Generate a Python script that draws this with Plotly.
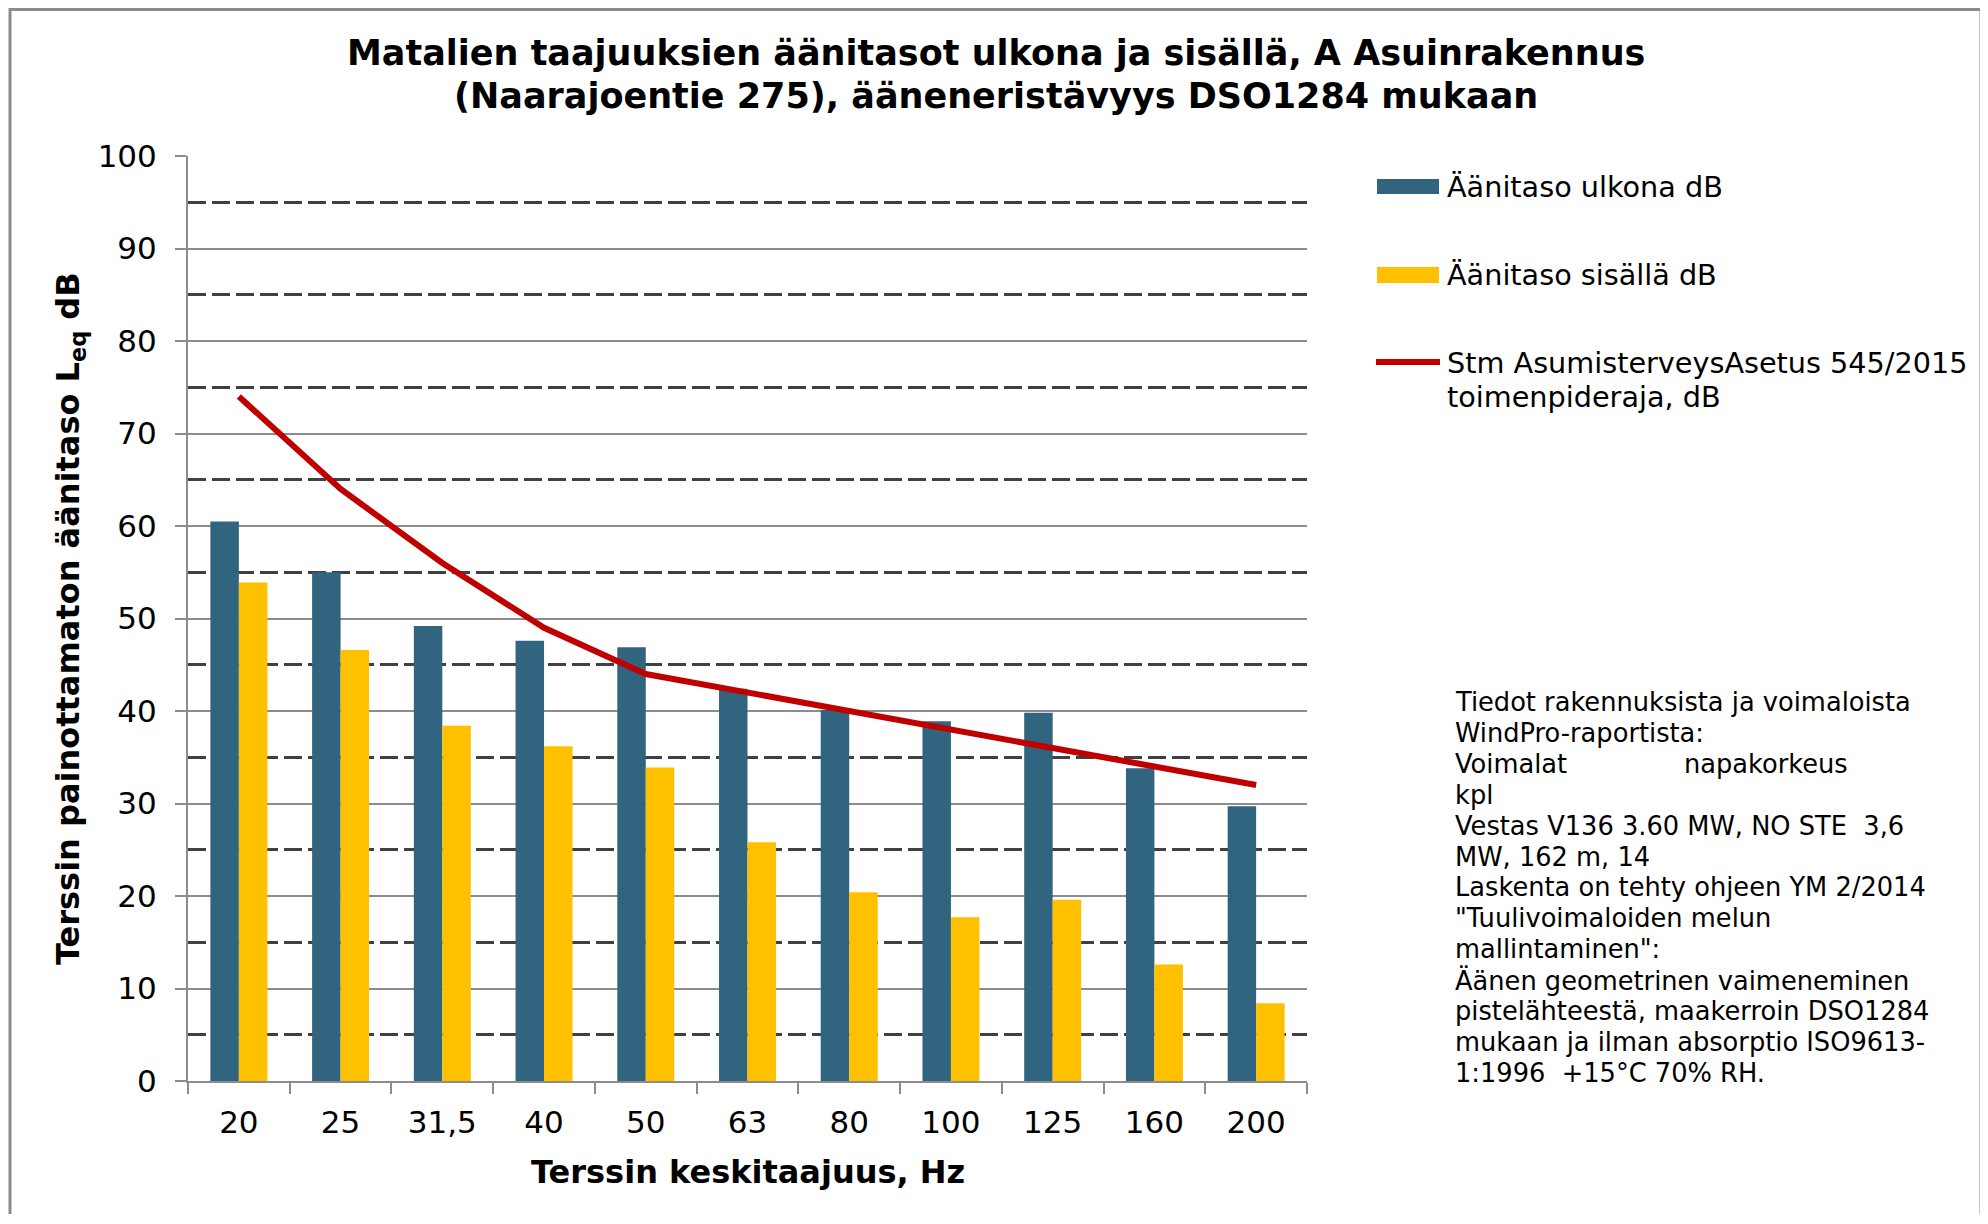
import plotly.graph_objects as go

# ---------------- data ----------------
categories = ["20", "25", "31,5", "40", "50", "63", "80", "100", "125", "160", "200"]
outdoor = [60.5, 55.0, 49.2, 47.6, 46.9, 42.4, 40.1, 38.9, 39.8, 33.8, 29.7]
indoor = [53.9, 46.6, 38.4, 36.2, 33.9, 25.8, 20.4, 17.7, 19.6, 12.6, 8.4]
limit = [74, 64, 56, 49, 44, 42, 40, 38, 36, 34, 32]

series_names = [
    "Äänitaso ulkona dB",
    "Äänitaso sisällä dB",
    "Stm AsumisterveysAsetus 545/2015",
    "toimenpideraja, dB",
]
title_lines = [
    "Matalien taajuuksien äänitasot ulkona ja sisällä, A Asuinrakennus",
    "(Naarajoentie 275), ääneneristävyys DSO1284 mukaan",
]
x_title = "Terssin keskitaajuus, Hz"
y_title = "Terssin painottamaton äänitaso L<sub>eq</sub> dB"
note_lines = [
    "Tiedot rakennuksista ja voimaloista",
    "WindPro-raportista:",
    "Voimalat",
    "kpl",
    "Vestas V136 3.60 MW, NO STE\u00a0\u00a03,6",
    "MW, 162 m, 14",
    "Laskenta on tehty ohjeen YM 2/2014",
    "\"Tuulivoimaloiden melun",
    "mallintaminen\":",
    "Äänen geometrinen vaimeneminen",
    "pistelähteestä, maakerroin DSO1284",
    "mukaan ja ilman absorptio ISO9613-",
    "1:1996\u00a0\u00a0+15°C 70% RH.",
]
note_extra = "napakorkeus"

# ---------------- style ----------------
OFF = 8                      # default page body margin
W, H = 1976, 1206
L, R, T, B = 188, 1307, 156, 1081   # plot area in screen pixels
BLUE, YELLOW, RED = "#31657F", "#FFC000", "#C00000"
GRID, DASH = "#8C8C8C", "#404040"
FONT = "DejaVu Sans"


def px(x):
    return (x - L) / (R - L)


def py(y):
    return (B - y) / (B - T)


def text(t, x, y, size, anchor="center", angle=0):
    return dict(text=t, x=px(x), y=py(y), xref="paper", yref="paper",
                xanchor=anchor, yanchor="middle", showarrow=False, textangle=angle,
                font=dict(family=FONT, size=size, color="black"))


fig = go.Figure()
fig.add_trace(go.Bar(x=categories, y=outdoor, name=series_names[0],
                     marker=dict(color=BLUE, line=dict(width=0))))
fig.add_trace(go.Bar(x=categories, y=indoor, name=series_names[1],
                     marker=dict(color=YELLOW, line=dict(width=0))))
fig.add_trace(go.Scatter(x=categories, y=limit, mode="lines",
                         name=series_names[2] + " " + series_names[3],
                         line=dict(color=RED, width=6)))

annotations = [
    text("<b>" + title_lines[0] + "</b>", 996, 53, 35),
    text("<b>" + title_lines[1] + "</b>", 996, 96, 35),
    text("<b>" + x_title + "</b>", 748, 1172, 32),
    text("<b>" + y_title + "</b>", 70, 619, 32, angle=-90),
]
leg_y = [187, 275, 363, 397]
for name, yy in zip(series_names, leg_y):
    annotations.append(text(name, 1445, yy, 28.7, anchor="left"))
for i, line in enumerate(note_lines):
    annotations.append(text(line, 1453, 702 + 30.9 * i, 25.7, anchor="left"))
annotations.append(text(note_extra, 1682, 702 + 30.9 * 2, 25.7, anchor="left"))

shapes = [
    dict(type="rect", xref="paper", yref="paper", x0=px(10), x1=px(1981), y0=py(9.5), y1=py(1240),
         line=dict(color="#8C8C8C", width=3), fillcolor="rgba(0,0,0,0)", layer="below"),
    dict(type="rect", xref="paper", yref="paper", x0=px(1377), x1=px(1439), y0=py(179), y1=py(194),
         line=dict(width=0), fillcolor=BLUE),
    dict(type="rect", xref="paper", yref="paper", x0=px(1377), x1=px(1439), y0=py(267), y1=py(283),
         line=dict(width=0), fillcolor=YELLOW),
    dict(type="line", xref="paper", yref="paper", x0=px(1376), x1=px(1440), y0=py(362), y1=py(362),
         line=dict(color=RED, width=6)),
]

fig.update_layout(
    width=W, height=H, autosize=False,
    margin=dict(l=L - OFF, r=(W + OFF) - R, t=T - OFF, b=(H + OFF) - B, pad=0),
    paper_bgcolor="white", plot_bgcolor="white",
    barmode="group", bargap=0.44, bargroupgap=0,
    showlegend=False,
    font=dict(family=FONT, color="black"),
    annotations=annotations, shapes=shapes,
)
fig.update_xaxes(
    type="category", showline=True, linecolor=GRID, linewidth=2,
    ticks="outside", tickson="boundaries", ticklen=11, tickcolor=GRID, tickwidth=2,
    showgrid=False, tickfont=dict(family=FONT, size=31, color="black"),
    ticklabelstandoff=13,
)
fig.update_yaxes(
    range=[0, 100], dtick=10, tick0=0, showline=True, linecolor=GRID, linewidth=2,
    ticks="outside", ticklen=11, tickcolor=GRID, tickwidth=2,
    showgrid=True, gridcolor=GRID, gridwidth=2, zeroline=False,
    tickfont=dict(family=FONT, size=31, color="black"),
    ticklabelstandoff=12,
    minor=dict(dtick=5, tick0=0, showgrid=True, gridcolor=DASH, gridwidth=2.5,
               griddash="18px,6px", ticks=""),
)

fig.write_html("out.html")
